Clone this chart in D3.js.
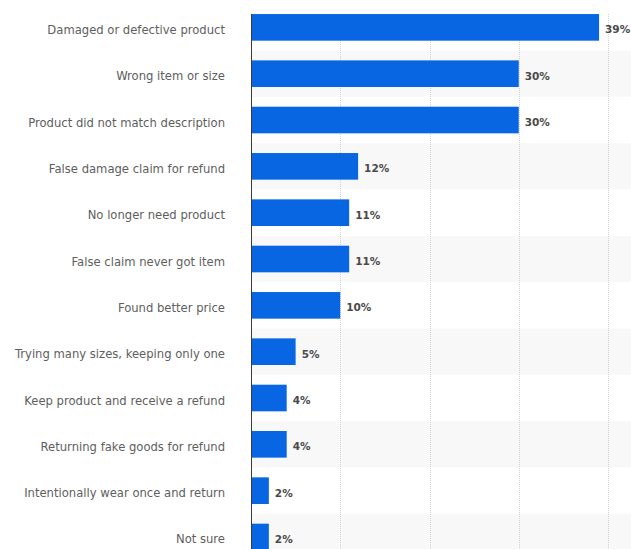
<!DOCTYPE html>
<html>
<head>
<meta charset="utf-8">
<script src="https://cdn.jsdelivr.net/npm/d3@7"></script>
<style>
  html, body { margin: 0; padding: 0; background: #ffffff; }
  svg { display: block; }
</style>
</head>
<body>
<svg id="chart" width="631" height="549"></svg>
<script>
// Reasons for returning products (share of respondents, %)
const categories = [
  "Damaged or defective product",
  "Wrong item or size",
  "Product did not match description",
  "False damage claim for refund",
  "No longer need product",
  "False claim never got item",
  "Found better price",
  "Trying many sizes, keeping only one",
  "Keep product and receive a refund",
  "Returning fake goods for refund",
  "Intentionally wear once and return",
  "Not sure"
];
const values = [39, 30, 30, 12, 11, 11, 10, 5, 4, 4, 2, 2];
const gridTicks = [10, 20, 30, 40];

const width = 631, height = 549;
const plotLeft = 251, plotTop = 14;
const rowStart = 4.2, rowStep = 46.33;

const svg = d3.select("#chart");

const x = d3.scaleLinear().domain([0, 40]).range([plotLeft, 608]);

// one full-height row per category (used for the striped background)
const rows = d3.scaleBand()
  .domain(categories)
  .range([rowStart, rowStart + rowStep * categories.length])
  .padding(0);

// bars centred in their rows
const y = d3.scaleBand()
  .domain(categories)
  .range([rowStart, rowStart + rowStep * categories.length])
  .paddingInner(0.425)
  .paddingOuter(0.2125);

svg.append("defs").append("clipPath").attr("id", "plot-clip")
  .append("rect")
  .attr("x", plotLeft).attr("y", plotTop)
  .attr("width", width - plotLeft).attr("height", height - plotTop);

const plot = svg.append("g").attr("clip-path", "url(#plot-clip)");

// alternating row stripes
plot.append("g").selectAll("rect")
  .data(categories.filter((d, i) => i % 2 === 1))
  .join("rect")
  .attr("x", plotLeft)
  .attr("y", d => rows(d))
  .attr("width", width - plotLeft)
  .attr("height", rows.bandwidth())
  .attr("fill", "#f8f8f8");

// dotted vertical gridlines
plot.append("g").selectAll("line")
  .data(gridTicks)
  .join("line")
  .attr("x1", d => Math.round(x(d)) + 0.5)
  .attr("x2", d => Math.round(x(d)) + 0.5)
  .attr("y1", plotTop)
  .attr("y2", height)
  .attr("stroke", "#d2d2d2")
  .attr("stroke-width", 1)
  .attr("stroke-dasharray", "1,1");

// bars
plot.append("g").selectAll("rect")
  .data(values)
  .join("rect")
  .attr("x", x(0))
  .attr("y", (d, i) => y(categories[i]))
  .attr("width", d => x(d) - x(0))
  .attr("height", y.bandwidth())
  .attr("fill", "#0866e3");

// value labels
svg.append("g").selectAll("text")
  .data(values)
  .join("text")
  .attr("x", d => x(d) + 6)
  .attr("y", (d, i) => y(categories[i]) + y.bandwidth() / 2)
  .attr("dy", 6)
  .attr("font-family", "'DejaVu Sans', sans-serif")
  .attr("font-size", 10.5)
  .attr("font-weight", 700)
  .attr("fill", "#4a4a4a")
  .text(d => d + "%");

// category axis
const yAxis = d3.axisLeft(y).tickSize(0).tickPadding(26);
const axisG = svg.append("g")
  .attr("transform", `translate(${plotLeft},0)`)
  .call(yAxis);
axisG.select(".domain").remove();
axisG.selectAll("text")
  .attr("dy", 6.5)
  .attr("font-family", "'DejaVu Sans', sans-serif")
  .attr("font-size", 11.6)
  .attr("fill", "#5e5e5e");

// baseline
svg.append("line")
  .attr("x1", plotLeft + 0.5).attr("x2", plotLeft + 0.5)
  .attr("y1", plotTop).attr("y2", height)
  .attr("stroke", "#3a3a3a")
  .attr("stroke-width", 1);
</script>
</body>
</html>
